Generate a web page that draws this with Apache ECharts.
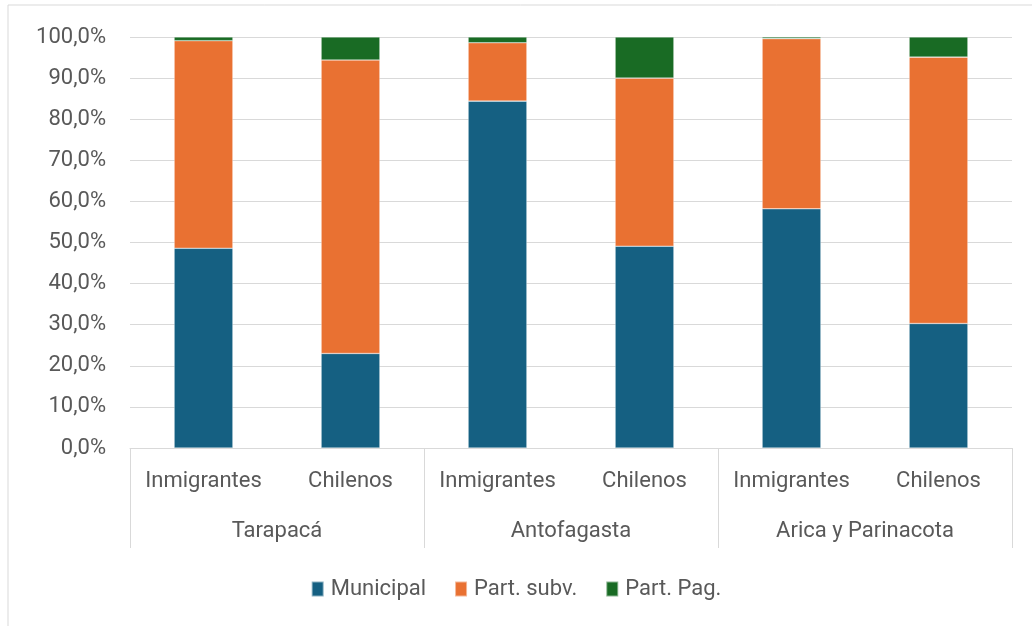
<!DOCTYPE html>
<html>
<head>
<meta charset="utf-8">
<script src="https://cdn.jsdelivr.net/npm/echarts@6/dist/echarts.min.js"></script>
<style>
  html, body { margin: 0; padding: 0; background: #fff; }
  #chart { width: 1032px; height: 626px; }
</style>
</head>
<body>
<div id="chart"></div>
<script>
// categorías (dos niveles)
var regiones = ['Tarapacá', 'Antofagasta', 'Arica y Parinacota'];
var grupos = ['Inmigrantes', 'Chilenos', 'Inmigrantes', 'Chilenos', 'Inmigrantes', 'Chilenos'];

// porcentajes por dependencia
var municipal = [48.6, 23.0, 84.4, 49.1, 58.2, 30.3];
var partSubv  = [50.5, 71.4, 14.2, 40.9, 41.4, 64.8];
var partPag   = [0.9, 5.6, 1.4, 10.0, 0.4, 4.9];

var yTicks = [0, 10, 20, 30, 40, 50, 60, 70, 80, 90, 100];

var fontFam = 'Roboto, "Noto Sans", sans-serif';

var myChart = echarts.init(document.getElementById('chart'));

function serie(nombre, datos, color) {
    return {
        name: nombre,
        type: 'bar',
        stack: 'total',
        barWidth: '40%',
        data: datos,
        itemStyle: { color: color, borderColor: 'rgba(255,255,255,0.5)', borderWidth: 0.6 }
    };
}

var option = {
    animation: false,
    textStyle: { fontFamily: fontFam },
    graphic: [{
        type: 'rect',
        shape: { x: 8, y: 5, width: 1040, height: 640 },
        style: { fill: 'none', stroke: '#d9d9d9', lineWidth: 1 },
        z: -1
    }],
    grid: { left: 130, right: 20, top: 37, bottom: 178 },
    legend: {
        bottom: 21,
        left: 'center',
        itemWidth: 12,
        itemHeight: 15,
        itemGap: 28,
        icon: 'rect',
        textStyle: { fontSize: 22, color: '#595959', fontFamily: fontFam, padding: [0, 0, 0, 2] },
        data: ['Municipal', 'Part. subv.', 'Part. Pag.']
    },
    xAxis: [
        {
            type: 'category',
            data: grupos,
            axisLine: { lineStyle: { color: '#d9d9d9', width: 1 } },
            axisTick: { show: false },
            axisLabel: { color: '#595959', fontSize: 22, margin: 22, interval: 0 }
        },
        {
            type: 'category',
            position: 'bottom',
            data: regiones,
            axisLine: { show: false },
            axisTick: { show: true, length: 100, interval: 0, lineStyle: { color: '#d9d9d9', width: 1 } },
            axisLabel: { color: '#595959', fontSize: 22, margin: 72, interval: 0 }
        }
    ],
    yAxis: {
        type: 'value',
        min: 0,
        max: 100,
        interval: 10,
        axisLine: { show: false },
        axisTick: { show: false },
        splitLine: { lineStyle: { color: '#d9d9d9', width: 1 } },
        axisLabel: {
            color: '#595959',
            fontSize: 22,
            margin: 24,
            formatter: function (v) {
                return yTicks.indexOf(v) >= 0 ? v.toFixed(1).replace('.', ',') + '%' : '';
            }
        }
    },
    series: [
        serie('Municipal', municipal, '#156082'),
        serie('Part. subv.', partSubv, '#E97132'),
        serie('Part. Pag.', partPag, '#196B24')
    ]
};

myChart.setOption(option, true);
</script>
</body>
</html>
